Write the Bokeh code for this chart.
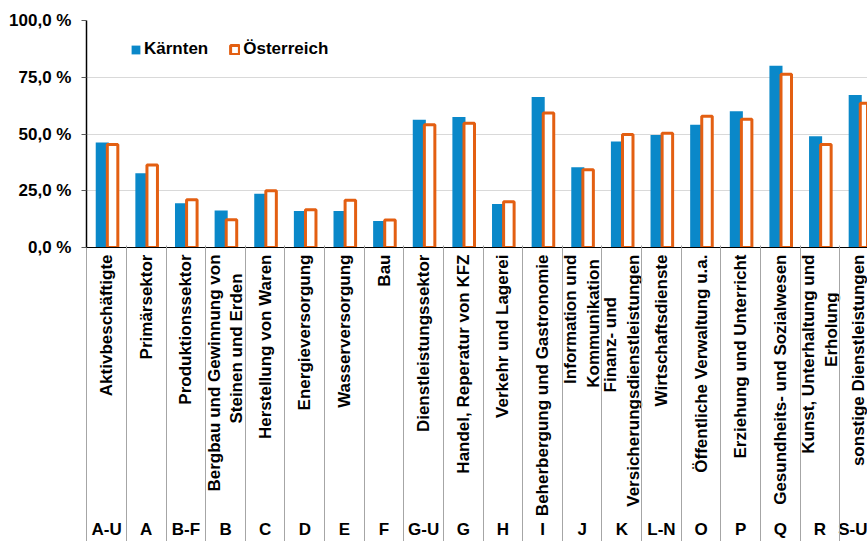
import math
import numpy as np
from bokeh.plotting import figure
from bokeh.models import (Range1d, LinearAxis, FixedTicker, Grid, Legend, LegendItem,
                          ColumnDataSource)
from bokeh.embed import file_html
from bokeh.resources import INLINE

# ---- data ----
codes = ["A-U", "A", "B-F", "B", "C", "D", "E", "F", "G-U", "G", "H", "I", "J", "K",
         "L-N", "O", "P", "Q", "R", "S-U"]
names = ["Aktivbeschäftigte", "Primärsektor", "Produktionssektor",
         "Bergbau und Gewinnung von\nSteinen und Erden", "Herstellung von Waren",
         "Energieversorgung", "Wasserversorgung", "Bau", "Dienstleistungssektor",
         "Handel, Reperatur von KFZ", "Verkehr und Lagerei", "Beherbergung und Gastronomie",
         "Information und\nKommunikation", "Finanz- und\nVersicherungsdienstleistungen",
         "Wirtschaftsdienste", "Öffentliche Verwaltung u.a.", "Erziehung und Unterricht",
         "Gesundheits- und Sozialwesen", "Kunst, Unterhaltung und\nErholung",
         "sonstige Dienstleistungen"]
kaernten = [46.3, 32.7, 19.5, 16.3, 23.7, 16.1, 16.1, 11.7, 56.3, 57.5, 19.2, 66.3,
            35.3, 46.7, 49.6, 54.1, 60.0, 80.1, 49.0, 67.2]
oesterreich = [45.4, 36.3, 21.0, 12.2, 25.0, 16.6, 20.8, 12.1, 54.1, 54.7, 20.2, 59.3,
               34.3, 49.8, 50.3, 57.8, 56.5, 76.3, 45.4, 63.6]
series_names = ["Kärnten", "Österreich"]
y_ticks = [0, 25, 50, 75, 100]
y_tick_labels = ["0,0 %", "25,0 %", "50,0 %", "75,0 %", "100,0 %"]

BLUE = "#0a88c9"
ORANGE = "#e35f12"
FONT = "Liberation Sans"
NBSP = "\u00a0"

n = len(codes)
idx = np.arange(n)


def centre_lines(label):
    """Pad shorter lines (tick labels are right-aligned) so the lines look centred."""
    lines = label.split("\n")
    if len(lines) == 1:
        return label
    longest = max(len(l) for l in lines)
    out = []
    for l in lines:
        pad = int(round((longest - len(l)) * 0.5 * 1.05))
        out.append(l + NBSP * pad)
    return "\n".join(out)


p = figure(width=867, height=541, x_range=Range1d(-0.508, 19.20), y_range=Range1d(0, 100),
           output_backend="svg", toolbar_location=None, x_axis_type=None, y_axis_type=None,
           min_border_left=86, min_border_right=0, min_border_top=20, min_border_bottom=0)
p.outline_line_color = None
p.background_fill_color = "white"
p.border_fill_color = "white"

# grid
grid = Grid(dimension=1, ticker=FixedTicker(ticks=y_ticks[1:]))
grid.grid_line_color = "#d9d9d9"
grid.grid_line_width = 1
p.add_layout(grid)

# bars
src = ColumnDataSource(dict(xb=idx - 0.11, xo=idx + 0.15, k=kaernten, o=oesterreich))
rb = p.vbar(x="xb", top="k", bottom=0, width=0.33, source=src, fill_color=BLUE, line_color=None)
ro = p.vbar(x="xo", top="o", bottom=0, width=0.265, source=src, fill_color="white",
            line_color=ORANGE, line_width=3)

# y axis
yax = LinearAxis(ticker=FixedTicker(ticks=y_ticks),
                 major_label_overrides={t: l for t, l in zip(y_ticks, y_tick_labels)})
yax.axis_line_color = "black"
yax.axis_line_width = 1.5
yax.major_tick_out = 5
yax.major_tick_in = 0
yax.major_tick_line_color = "#595959"
yax.major_label_standoff = 10
yax.major_label_text_font = FONT
yax.major_label_text_font_style = "bold"
yax.major_label_text_font_size = "17px"
yax.major_label_text_color = "black"
p.add_layout(yax, "left")

# category names axis
xax = LinearAxis(ticker=FixedTicker(ticks=list(range(n))),
                 major_label_overrides={i: centre_lines(s) for i, s in enumerate(names)})
xax.axis_line_color = "black"
xax.axis_line_width = 1
xax.major_tick_out = 0
xax.major_tick_in = 0
xax.minor_tick_line_color = None
xax.major_label_orientation = math.pi / 2
xax.major_label_standoff = 7
xax.major_label_text_font = FONT
xax.major_label_text_font_style = "bold"
xax.major_label_text_font_size = "17px"
xax.major_label_text_color = "black"
p.add_layout(xax, "below")

# code axis
cax = LinearAxis(ticker=FixedTicker(ticks=list(range(n))),
                 major_label_overrides={i: s for i, s in enumerate(codes)})
cax.axis_line_color = None
cax.major_tick_line_color = None
cax.minor_tick_line_color = None
cax.major_tick_out = 0
cax.major_tick_in = 0
cax.major_label_standoff = 0
cax.major_label_text_font = FONT
cax.major_label_text_font_style = "bold"
cax.major_label_text_font_size = "17px"
cax.major_label_text_color = "black"
p.add_layout(cax, "below")

# separator axis at the very bottom: its inward minor ticks are the category separators
sax = LinearAxis(ticker=FixedTicker(ticks=[], minor_ticks=[i - 0.5 for i in range(n + 1)]))
sax.axis_line_color = None
sax.major_tick_line_color = None
sax.major_tick_out = 0
sax.major_tick_in = 0
sax.major_label_standoff = 0
sax.minor_tick_in = 296
sax.minor_tick_out = 0
sax.minor_tick_line_color = "#a6a6a6"
sax.minor_tick_line_width = 1
p.add_layout(sax, "below")

legend = Legend(items=[LegendItem(label=series_names[0], renderers=[rb]),
                       LegendItem(label=series_names[1], renderers=[ro])],
                location=(44, 188), orientation="horizontal")
legend.padding = 0
legend.margin = 0
legend.spacing = 21
legend.label_standoff = 3
legend.glyph_width = 11
legend.glyph_height = 11
legend.border_line_color = None
legend.background_fill_alpha = 0
legend.label_text_font = FONT
legend.label_text_font_style = "bold"
legend.label_text_font_size = "17px"
legend.label_text_color = "black"
p.add_layout(legend)

open("out.html", "w").write(file_html(p, INLINE))
